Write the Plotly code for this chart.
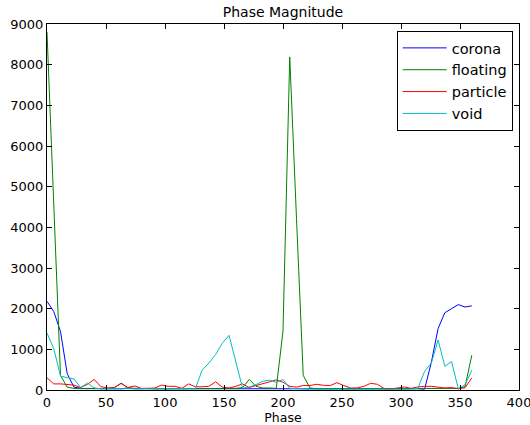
import plotly.graph_objects as go

phase = [0.0, 5.71, 11.43, 17.14, 22.86, 28.57, 34.29, 40.0, 45.71, 51.43, 57.14, 62.86,
         68.57, 74.29, 80.0, 85.71, 91.43, 97.14, 102.86, 108.57, 114.29, 120.0, 125.71,
         131.43, 137.14, 142.86, 148.57, 154.29, 160.0, 165.71, 171.43, 177.14, 182.86,
         188.57, 194.29, 200.0, 205.71, 211.43, 217.14, 222.86, 228.57, 234.29, 240.0,
         245.71, 251.43, 257.14, 262.86, 268.57, 274.29, 280.0, 285.71, 291.43, 297.14,
         302.86, 308.57, 314.29, 320.0, 325.71, 331.43, 337.14, 342.86, 348.57, 354.29, 360.0]

corona = [2180, 1930, 1440, 400, 70, 40, 30, 40, 30, 30, 40, 30, 50, 30, 30, 40,
          30, 30, 40, 30, 30, 40, 30, 30, 40, 30, 30, 30, 40, 30, 30, 40,
          30, 30, 40, 30, 30, 40, 30, 30, 40, 30, 30, 40, 30, 30, 40, 30,
          30, 30, 30, 40, 30, 30, 30, 30, 20, 680, 1510, 1900, 2000, 2100, 2040, 2070]

floating = [8800, 4550, 360, 70, 40, 30, 40, 30, 30, 40, 60, 170, 50, 40, 30, 30,
            30, 30, 30, 30, 30, 30, 30, 30, 40, 30, 30, 30, 40, 60, 260, 90,
            50, 50, 40, 1450, 8190, 4220, 360, 50, 30, 30, 30, 30, 30, 30, 30, 30,
            30, 30, 30, 30, 30, 30, 30, 30, 30, 30, 30, 30, 30, 40, 80, 855]

particle = [300, 150, 150, 140, 120, 60, 140, 260, 80, 50, 60, 160, 60, 100, 40, 40,
            50, 120, 90, 90, 40, 150, 80, 80, 90, 200, 70, 50, 90, 150, 60, 110,
            150, 200, 250, 190, 90, 70, 110, 110, 140, 115, 110, 180, 110, 50, 50, 90,
            165, 140, 35, 25, 50, 75, 40, 75, 90, 90, 70, 50, 60, 30, 55, 300]

void = [1400, 1020, 340, 300, 270, 60, 170, 50, 30, 30, 30, 30, 30, 30, 30, 30,
        30, 30, 30, 30, 30, 30, 30, 485, 660, 870, 1150, 1345, 720, 50, 74, 133,
        214, 239, 190, 256, 42, 30, 20, 20, 20, 20, 20, 20, 20, 20, 20, 20,
        20, 20, 20, 20, 20, 20, 20, 40, 460, 660, 1230, 584, 700, 30, 130, 485]

x_ticks = [0, 50, 100, 150, 200, 250, 300, 350, 400]
y_ticks = [0, 1000, 2000, 3000, 4000, 5000, 6000, 7000, 8000, 9000]

series = [("corona", corona, "#0000ff"), ("floating", floating, "#008000"),
          ("particle", particle, "#ff0000"), ("void", void, "#00bfbf")]

fig = go.Figure()
for name, vals, col in series:
    fig.add_trace(go.Scatter(x=phase, y=vals, name=name, mode="lines",
                             line=dict(color=col, width=1)))

font = "DejaVu Sans, Liberation Sans, sans-serif"
axis_common = dict(showline=True, linecolor="black", linewidth=1, mirror="ticks",
                   ticks="inside", ticklen=5, tickcolor="black", showgrid=False,
                   zeroline=False, automargin=False, ticklabeloverflow="allow",
                   tickfont=dict(size=13, color="black", family=font))

fig.update_layout(
    width=530, height=425,
    margin=dict(l=47, r=11, t=24, b=35),
    paper_bgcolor="white", plot_bgcolor="white",
    title=dict(text="Phase Magnitude", xref="paper", x=0.5, xanchor="center",
               yref="container", y=1 - 12 / 425, yanchor="middle", automargin=False,
               font=dict(size=14, color="black", family=font)),
    xaxis=dict(range=[0, 400], tickvals=x_ticks,
               title=dict(text="Phase", font=dict(size=12.5, color="black", family=font),
                          standoff=4),
               **axis_common),
    yaxis=dict(range=[0, 9000], tickvals=y_ticks, **axis_common),
    legend=dict(x=0.9866, xanchor="right", y=0.981, yanchor="top",
                bordercolor="black", borderwidth=1, bgcolor="white",
                font=dict(size=14.5, color="black", family=font),
                itemwidth=44, tracegroupgap=0),
    showlegend=True,
)

fig.write_html("out.html", config={"displayModeBar": False},
               post_script="document.body.style.margin='0';document.body.style.overflow='hidden';")
